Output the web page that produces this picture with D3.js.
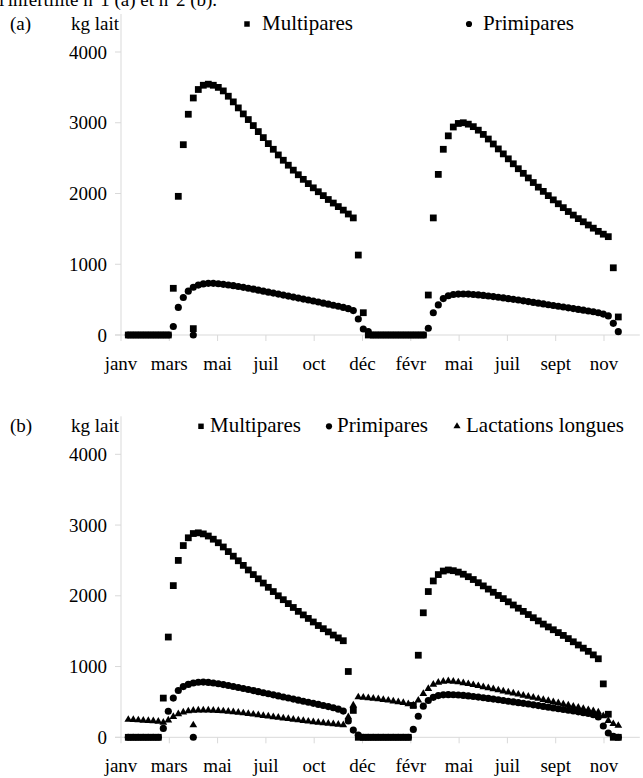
<!DOCTYPE html>
<html lang="fr">
<head>
<meta charset="utf-8">
<title>Production laitière mensuelle - infertilité n°1 (a) et n°2 (b)</title>
<script src="https://d3js.org/d3.v7.min.js"></script>
<style>
  body { margin: 0; background: #fff; }
  svg text { font-family: "Liberation Serif", "Times New Roman", Times, "DejaVu Serif", serif; fill: #000; }
</style>
</head>
<body>
<script>
// tick labels of the category axis (one every major tick)
var monthLabels = ["janv", "mars", "mai", "juil", "oct", "déc", "févr", "mai", "juil", "sept", "nov"];
var yTicks = [0, 1000, 2000, 3000, 4000];

// panel (a) : kg lait per week, one value per point
var multiA = [0,0,0,0,0,0,0,0,0,
  660,1960,2690,3120,3350,3470,3530,3545,3530,3500,
  3450,3375,3295,3210,3125,3045,2960,2875,2790,2705,
  2625,2545,2470,2400,2330,2265,2200,2140,2080,2025,
  1970,1915,1865,1815,1765,1710,1655,
  1130,315,
  0,0,0,0,0,0,0,0,0,0,0,0,
  565,1655,2270,2625,2815,2940,2990,3000,2980,2945,
  2895,2835,2770,2700,2630,2560,2490,2420,2350,2285,
  2220,2155,2090,2030,1970,1910,1855,1800,1745,1695,
  1645,1600,1555,1510,1465,1425,1390,
  950,255];
var primiA = [0,0,0,0,0,0,0,0,0,
  120,390,530,620,675,705,722,730,730,724,
  716,707,697,686,674,661,648,634,620,606,
  592,578,564,550,536,522,508,494,480,466,
  450,436,421,406,390,372,345,
  226,85,47,
  0,0,0,0,0,0,0,0,0,0,0,
  95,315,425,515,555,572,578,580,578,573,
  567,560,552,543,534,524,514,504,494,483,
  472,461,450,439,428,417,406,395,384,373,
  362,351,340,328,314,296,270,
  165,47];
// stray points at the same week
var strayA = [{serie: "multi", i: 13, v: 90}, {serie: "primi", i: 13, v: 0}];

// panel (b)
var multiB = [0,0,0,0,0,0,0,
  554,1417,2144,2500,2710,2820,2880,2890,2875,2845,
  2800,2750,2690,2625,2560,2495,2430,2365,2300,2240,
  2180,2120,2060,2000,1945,1890,1835,1780,1730,1680,
  1630,1580,1535,1490,1445,1405,1365,
  930,380,
  0,0,0,0,0,0,0,0,0,0,0,
  450,1160,1760,2060,2210,2300,2350,2365,2355,2335,
  2305,2270,2230,2185,2140,2095,2050,2005,1960,1915,
  1870,1825,1780,1735,1690,1645,1600,1560,1520,1480,
  1440,1395,1350,1305,1260,1215,1165,1110,
  755,326,0,0];
var primiB = [0,0,0,0,0,0,0,
  126,368,554,662,717,748,768,778,780,776,
  768,757,745,732,718,704,690,675,660,645,
  630,615,600,585,570,555,540,525,510,495,
  480,465,450,434,418,398,370,
  230,102,30,
  0,0,0,0,0,0,0,0,0,0,
  112,298,440,520,565,590,600,603,602,598,
  592,585,577,568,559,550,540,530,520,510,
  500,490,480,470,459,448,437,426,415,404,
  393,382,371,360,348,336,318,288,
  160,60,15,0];
var longB = [250,247,243,239,234,229,223,210,240,290,
  330,355,370,378,382,383,382,379,375,370,
  365,358,350,342,333,324,315,306,297,288,
  279,270,261,252,243,234,225,216,208,201,
  194,187,180,173,
  288,452,568,
  562,556,549,541,532,522,511,499,487,470,452,
  522,615,685,745,775,790,795,
  790,780,768,755,741,727,712,697,682,667,
  652,637,622,607,592,577,562,547,532,517,
  500,484,468,452,436,420,404,388,372,355,
  300,235,190,165];
var strayB = [{serie: "long", i: 13, v: 172}, {serie: "primi", i: 13, v: 0}];

var width = 643, height = 778;
var axisGrey = "#d9d9d9";
var serif = "'Liberation Serif', 'Times New Roman', Times, 'DejaVu Serif', serif";

var svg = d3.select("body").append("svg")
    .attr("width", width)
    .attr("height", height)
    .attr("font-family", serif);

// x: point index, 5px per week; a major tick every 9.66 points
var x = d3.scaleLinear().domain([0, 100]).range([128.3, 628.3]);
var tickStep = 9.66, tickStart = -1.46;
var xTickVals = monthLabels.map(function(d, k) { return tickStart + k * tickStep; });
var xEnd = 102.3;

// cut-off caption line at the very top
svg.append("text")
    .attr("x", -1)
    .attr("y", 6)
    .style("font-size", "19px")
    .text("l'infertilité n°1 (a) et n°2 (b).");

function symbolFor(serie) {
    if (serie == "multi") return d3.symbol(d3.symbolSquare, 46)();
    if (serie == "primi") return d3.symbol(d3.symbolCircle, 40)();
    return d3.symbol(d3.symbolTriangle, 26)();
}

function drawPanel(cfg) {
    var y = d3.scaleLinear().domain([0, 4000]).range([cfg.y0, cfg.y0 - 283]);
    var g = svg.append("g");

    // y axis
    g.append("line")
        .attr("x1", x(tickStart)).attr("x2", x(tickStart))
        .attr("y1", y(4000) - 38).attr("y2", y(0))
        .attr("stroke", axisGrey);
    var yt = g.selectAll(".yt").data(yTicks).enter().append("g")
        .attr("transform", function(d) { return "translate(0," + y(d) + ")"; });
    yt.append("line")
        .attr("x1", x(tickStart) - 6).attr("x2", x(tickStart))
        .attr("stroke", axisGrey);
    yt.append("text")
        .attr("x", x(tickStart) - 14)
        .attr("dy", "0.35em")
        .attr("text-anchor", "end")
        .style("font-size", "19px")
        .text(function(d) { return d; });

    // x axis
    g.append("line")
        .attr("x1", x(tickStart) - 6).attr("x2", x(xEnd))
        .attr("y1", y(0)).attr("y2", y(0))
        .attr("stroke", axisGrey);
    var xt = g.selectAll(".xt").data(xTickVals).enter().append("g")
        .attr("transform", function(d) { return "translate(" + x(d) + "," + y(0) + ")"; });
    xt.append("line").attr("y2", 6).attr("stroke", axisGrey);
    xt.append("text")
        .attr("y", 35)
        .attr("text-anchor", "middle")
        .style("font-size", "19px")
        .text(function(d, k) { return monthLabels[k]; });

    // header row : panel letter, unit, legend
    var hy = cfg.y0 - 305;
    g.append("text").attr("x", 10).attr("y", hy)
        .style("font-size", "19px").text(cfg.letter);
    g.append("text").attr("x", 119).attr("y", hy).attr("text-anchor", "end")
        .style("font-size", "19px").text("kg lait");
    cfg.legend.forEach(function(l) {
        var shape = l.serie == "long" ? d3.symbolTriangle : (l.serie == "multi" ? d3.symbolSquare : d3.symbolCircle);
        g.append("path")
            .attr("d", d3.symbol(shape, l.serie == "long" ? 22 : 30)())
            .attr("transform", "translate(" + l.mx + "," + (hy - 6) + ")")
            .attr("fill", "#000");
        g.append("text").attr("x", l.tx).attr("y", hy)
            .style("font-size", "21px").text(l.label);
    });

    // series, drawn in the order Excel stacks them
    cfg.series.forEach(function(s) {
        g.append("g").selectAll("path")
            .data(s.values)
            .enter().append("path")
            .attr("d", symbolFor(s.serie))
            .attr("transform", function(d, i) { return "translate(" + x(i) + "," + y(d) + ")"; })
            .attr("fill", "#000");
        g.append("g").selectAll("path")
            .data(cfg.stray.filter(function(p) { return p.serie == s.serie; }))
            .enter().append("path")
            .attr("d", symbolFor(s.serie))
            .attr("transform", function(p) { return "translate(" + x(p.i) + "," + y(p.v) + ")"; })
            .attr("fill", "#000");
    });
}

drawPanel({
    letter: "(a)", y0: 335,
    series: [{serie: "multi", values: multiA}, {serie: "primi", values: primiA}],
    stray: strayA,
    legend: [{serie: "multi", mx: 247, tx: 262, label: "Multipares"},
             {serie: "primi", mx: 469, tx: 483, label: "Primipares"}]
});
drawPanel({
    letter: "(b)", y0: 737.3,
    series: [{serie: "multi", values: multiB}, {serie: "primi", values: primiB}, {serie: "long", values: longB}],
    stray: strayB,
    legend: [{serie: "multi", mx: 201, tx: 210, label: "Multipares"},
             {serie: "primi", mx: 329, tx: 337, label: "Primipares"},
             {serie: "long", mx: 457, tx: 466, label: "Lactations longues"}]
});
</script>
</body>
</html>
